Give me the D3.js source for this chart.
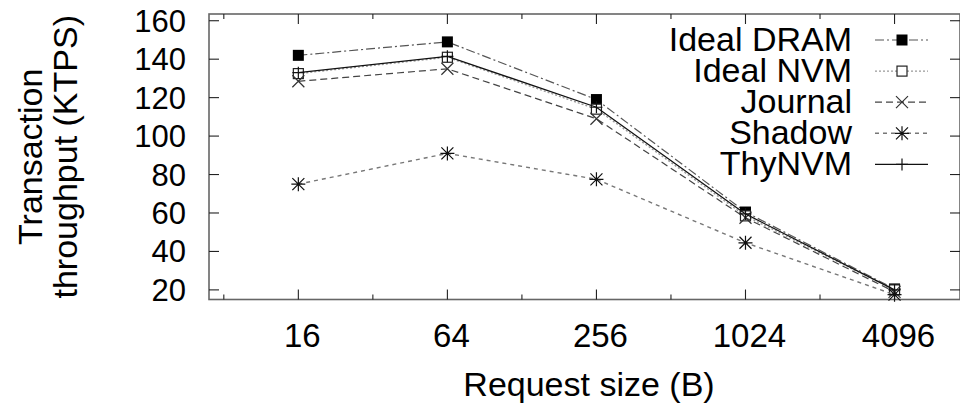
<!DOCTYPE html>
<html>
<head>
<meta charset="utf-8">
<script src="https://cdn.jsdelivr.net/npm/d3@7"></script>
<style>
  body { margin: 0; background: #fff; }
  svg { display: block; font-family: "Liberation Sans", Arial, Helvetica, sans-serif; }
</style>
</head>
<body>
<svg width="960" height="406"></svg>
<script>
// Data
var sizes = [16, 64, 256, 1024, 4096];
var minorSizes = [8, 32, 128, 512, 2048];
var yTicks = [20, 40, 60, 80, 100, 120, 140, 160];
var seriesNames = ["Ideal DRAM", "Ideal NVM", "Journal", "Shadow", "ThyNVM"];
var idealDram = [142, 149, 119, 60.5, 20.5];
var idealNvm = [132.5, 141, 114, 58.5, 20];
var journal = [128.5, 135, 109, 57.5, 19];
var shadow = [75, 91, 77.5, 44.5, 17.5];
var thynvm = [133, 141.5, 115, 59.5, 20];

var svg = d3.select("svg"),
	width = +svg.attr("width"),
	height = +svg.attr("height");

// plot frame edges
var pLeft = 209, pRight = 960, pTop = 14, pBottom = 299.5;

// log2 x axis, linear y axis
var x = d3.scaleLog().base(2)
	.domain([6.97, 7530])
	.range([pLeft, pRight]);
var y = d3.scaleLinear()
	.domain([15, 163.5])
	.range([pBottom, pTop]);

// styles per series
var styles = [
	{ values: idealDram, color: "#555", dash: "9,3,2,3", width: 1.2, marker: "fsquare" },
	{ values: idealNvm, color: "#999", dash: "2,2", width: 1.4, marker: "osquare" },
	{ values: journal, color: "#444", dash: "7,4", width: 1.2, marker: "cross" },
	{ values: shadow, color: "#777", dash: "4,4", width: 1.4, marker: "star" },
	{ values: thynvm, color: "#111", dash: null, width: 1.3, marker: "plus" }
];

// frame
svg.append("rect")
	.attr("x", pLeft)
	.attr("y", pTop)
	.attr("width", pRight - pLeft)
	.attr("height", pBottom - pTop)
	.attr("fill", "none")
	.attr("stroke", "#666")
	.attr("stroke-width", 1.6);

// ticks, mirrored on all sides, pointing inward
var ticks = svg.append("g").attr("stroke", "#222").attr("stroke-width", 1.1);
sizes.forEach(function (s) {
	ticks.append("line").attr("x1", x(s)).attr("x2", x(s)).attr("y1", pBottom).attr("y2", pBottom - 10);
	ticks.append("line").attr("x1", x(s)).attr("x2", x(s)).attr("y1", pTop).attr("y2", pTop + 10);
});
minorSizes.forEach(function (s) {
	ticks.append("line").attr("x1", x(s)).attr("x2", x(s)).attr("y1", pBottom).attr("y2", pBottom - 5);
	ticks.append("line").attr("x1", x(s)).attr("x2", x(s)).attr("y1", pTop).attr("y2", pTop + 5);
});
yTicks.forEach(function (t) {
	ticks.append("line").attr("x1", pLeft).attr("x2", pLeft + 10).attr("y1", y(t)).attr("y2", y(t));
	ticks.append("line").attr("x1", pRight).attr("x2", pRight - 10).attr("y1", y(t)).attr("y2", y(t));
});

// tick labels
svg.append("g")
	.selectAll("text")
	.data(sizes)
	.enter()
	.append("text")
	.attr("x", function (d) { return x(d) + 4; })
	.attr("y", 347)
	.attr("text-anchor", "middle")
	.style("font-size", "33px")
	.text(function (d) { return d; });

svg.append("g")
	.selectAll("text")
	.data(yTicks)
	.enter()
	.append("text")
	.attr("x", 186)
	.attr("y", function (d) { return y(d) + 11; })
	.attr("text-anchor", "end")
	.style("font-size", "31px")
	.text(function (d) { return d; });

// axis titles
svg.append("text")
	.attr("x", 589)
	.attr("y", 396)
	.attr("text-anchor", "middle")
	.style("font-size", "34px")
	.text("Request size (B)");

var ylab = svg.append("text")
	.attr("transform", "translate(42," + ((pTop + pBottom) / 2) + ") rotate(-90)")
	.attr("text-anchor", "middle")
	.style("font-size", "34px");
ylab.append("tspan").attr("x", 0).attr("y", 0).text("Transaction");
ylab.append("tspan").attr("x", 0).attr("y", 34.5).text("throughput (KTPS)");

// markers
function drawMarker(g, type, cx, cy) {
	if (type === "fsquare") {
		g.append("rect").attr("x", cx - 5.5).attr("y", cy - 5.5).attr("width", 11).attr("height", 11)
			.attr("fill", "#000");
	} else if (type === "osquare") {
		g.append("rect").attr("x", cx - 5).attr("y", cy - 5).attr("width", 10).attr("height", 10)
			.attr("fill", "#fff").attr("stroke", "#222").attr("stroke-width", 1.2);
	} else if (type === "cross") {
		g.append("path").attr("d", "M" + (cx - 6) + "," + (cy - 6) + "L" + (cx + 6) + "," + (cy + 6) +
			"M" + (cx - 6) + "," + (cy + 6) + "L" + (cx + 6) + "," + (cy - 6))
			.attr("stroke", "#333").attr("stroke-width", 1.2);
	} else if (type === "star") {
		g.append("path").attr("d", "M" + (cx - 6) + "," + (cy - 6) + "L" + (cx + 6) + "," + (cy + 6) +
			"M" + (cx - 6) + "," + (cy + 6) + "L" + (cx + 6) + "," + (cy - 6) +
			"M" + (cx - 7) + "," + cy + "L" + (cx + 7) + "," + cy +
			"M" + cx + "," + (cy - 7) + "L" + cx + "," + (cy + 7))
			.attr("stroke", "#111").attr("stroke-width", 1.2);
	} else if (type === "plus") {
		g.append("path").attr("d", "M" + (cx - 6) + "," + cy + "L" + (cx + 6) + "," + cy +
			"M" + cx + "," + (cy - 6) + "L" + cx + "," + (cy + 6))
			.attr("stroke", "#111").attr("stroke-width", 1.2);
	}
}

var line = d3.line()
	.x(function (d, i) { return x(sizes[i]); })
	.y(function (d) { return y(d); });

var plot = svg.append("g");
styles.forEach(function (s) {
	var g = plot.append("g");
	g.append("path")
		.datum(s.values)
		.attr("d", line)
		.attr("fill", "none")
		.attr("stroke", s.color)
		.attr("stroke-width", s.width)
		.attr("stroke-dasharray", s.dash);
	s.values.forEach(function (v, i) {
		drawMarker(g, s.marker, x(sizes[i]), y(v));
	});
});

// legend
var legend = svg.append("g");
styles.forEach(function (s, i) {
	var ly = 40 + i * 31.1;
	legend.append("text")
		.attr("x", 852)
		.attr("y", ly + 11)
		.attr("text-anchor", "end")
		.style("font-size", "34px")
		.text(seriesNames[i]);
	legend.append("line")
		.attr("x1", 875)
		.attr("x2", 928)
		.attr("y1", ly)
		.attr("y2", ly)
		.attr("stroke", s.color)
		.attr("stroke-width", s.width)
		.attr("stroke-dasharray", s.dash);
	drawMarker(legend, s.marker, 902, ly);
});
</script>
</body>
</html>
